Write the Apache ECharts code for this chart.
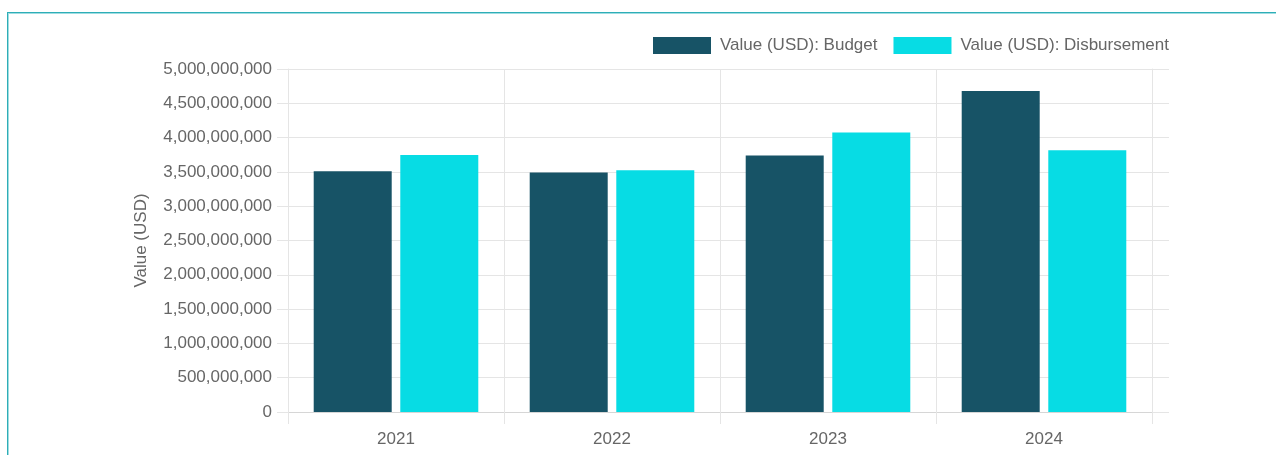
<!DOCTYPE html>
<html>
<head>
<meta charset="utf-8">
<script src="https://cdn.jsdelivr.net/npm/echarts@6/dist/echarts.min.js"></script>
<style>
  html, body { margin: 0; padding: 0; background: #fff; }
  body { width: 1276px; height: 455px; position: relative; overflow: hidden; }
  #frame {
    position: absolute; left: 7px; top: 12px; width: 1300px; height: 480px;
    border-top: 1px solid #2eaeb7; border-left: 1px solid #2eaeb7;
    box-shadow: inset 1px 1px 0 0 #9fdde2;
  }
  #clip { position: absolute; left: 0; top: 0; width: 1169px; height: 455px; overflow: hidden; }
  #chart { position: absolute; left: 0; top: 0; width: 1276px; height: 455px; }
</style>
</head>
<body>
<div id="frame"></div>
<div id="clip"><div id="chart"></div></div>
<script>
// Yearly budget vs. disbursement, in USD
const categories = ['2021', '2022', '2023', '2024'];
const budget = [3510000000, 3490000000, 3740000000, 4680000000];
const disbursement = [3745000000, 3525000000, 4075000000, 3815000000];
const seriesNames = ['Value (USD): Budget', 'Value (USD): Disbursement'];
const axisTitle = 'Value (USD)';

const FONT = "'Liberation Sans', Arial, Helvetica, sans-serif";
const TEXT = '#666666';
const GRID = '#e5e5e5';

function withCommas(v) {
  return String(Math.round(v)).replace(/\B(?=(\d{3})+(?!\d))/g, ',');
}

const chart = echarts.init(document.getElementById('chart'), null, { renderer: 'canvas' });

const valueAxisBase = {
  type: 'value',
  min: 0,
  max: 5000000000,
  interval: 500000000
};

chart.setOption({
  animation: false,
  textStyle: { fontFamily: FONT },
  legend: {
    left: 653,
    top: 37,
    padding: 0,
    itemWidth: 58,
    itemHeight: 17,
    itemGap: 16,
    icon: 'rect',
    data: seriesNames,
    textStyle: { fontFamily: FONT, fontSize: 17, color: TEXT, padding: [2, 0, 0, 4] }
  },
  grid: { left: 288, right: 124, top: 69, bottom: 43 },
  xAxis: {
    type: 'category',
    data: categories,
    boundaryGap: true,
    axisLine: { show: true, lineStyle: { color: '#d6d6d6', width: 1 } },
    axisTick: { show: true, length: 12, alignWithLabel: false, lineStyle: { color: GRID } },
    splitLine: { show: true, lineStyle: { color: GRID, width: 1 } },
    axisLabel: { color: TEXT, fontSize: 17, fontFamily: FONT, margin: 19 }
  },
  yAxis: [
    Object.assign({}, valueAxisBase, {
      position: 'left',
      name: axisTitle,
      nameLocation: 'middle',
      nameGap: 138,
      nameTextStyle: { color: TEXT, fontSize: 17, fontFamily: FONT },
      axisLine: { show: true, lineStyle: { color: GRID } },
      axisTick: { show: true, length: 11, lineStyle: { color: GRID } },
      splitLine: { show: true, lineStyle: { color: GRID, width: 1 } },
      axisLabel: { color: TEXT, fontSize: 17, fontFamily: FONT, margin: 16, formatter: withCommas }
    }),
    Object.assign({}, valueAxisBase, {
      position: 'right',
      axisLine: { show: true, lineStyle: { color: GRID } },
      axisTick: { show: true, length: 30, lineStyle: { color: GRID } },
      splitLine: { show: false },
      axisLabel: { show: false }
    })
  ],
  series: [
    {
      name: seriesNames[0],
      type: 'bar',
      data: budget,
      barWidth: 78,
      barGap: '11%',
      itemStyle: { color: '#175366' }
    },
    {
      name: seriesNames[1],
      type: 'bar',
      data: disbursement,
      barWidth: 78,
      barGap: '11%',
      itemStyle: { color: '#07dce4' }
    }
  ]
});
</script>
</body>
</html>
